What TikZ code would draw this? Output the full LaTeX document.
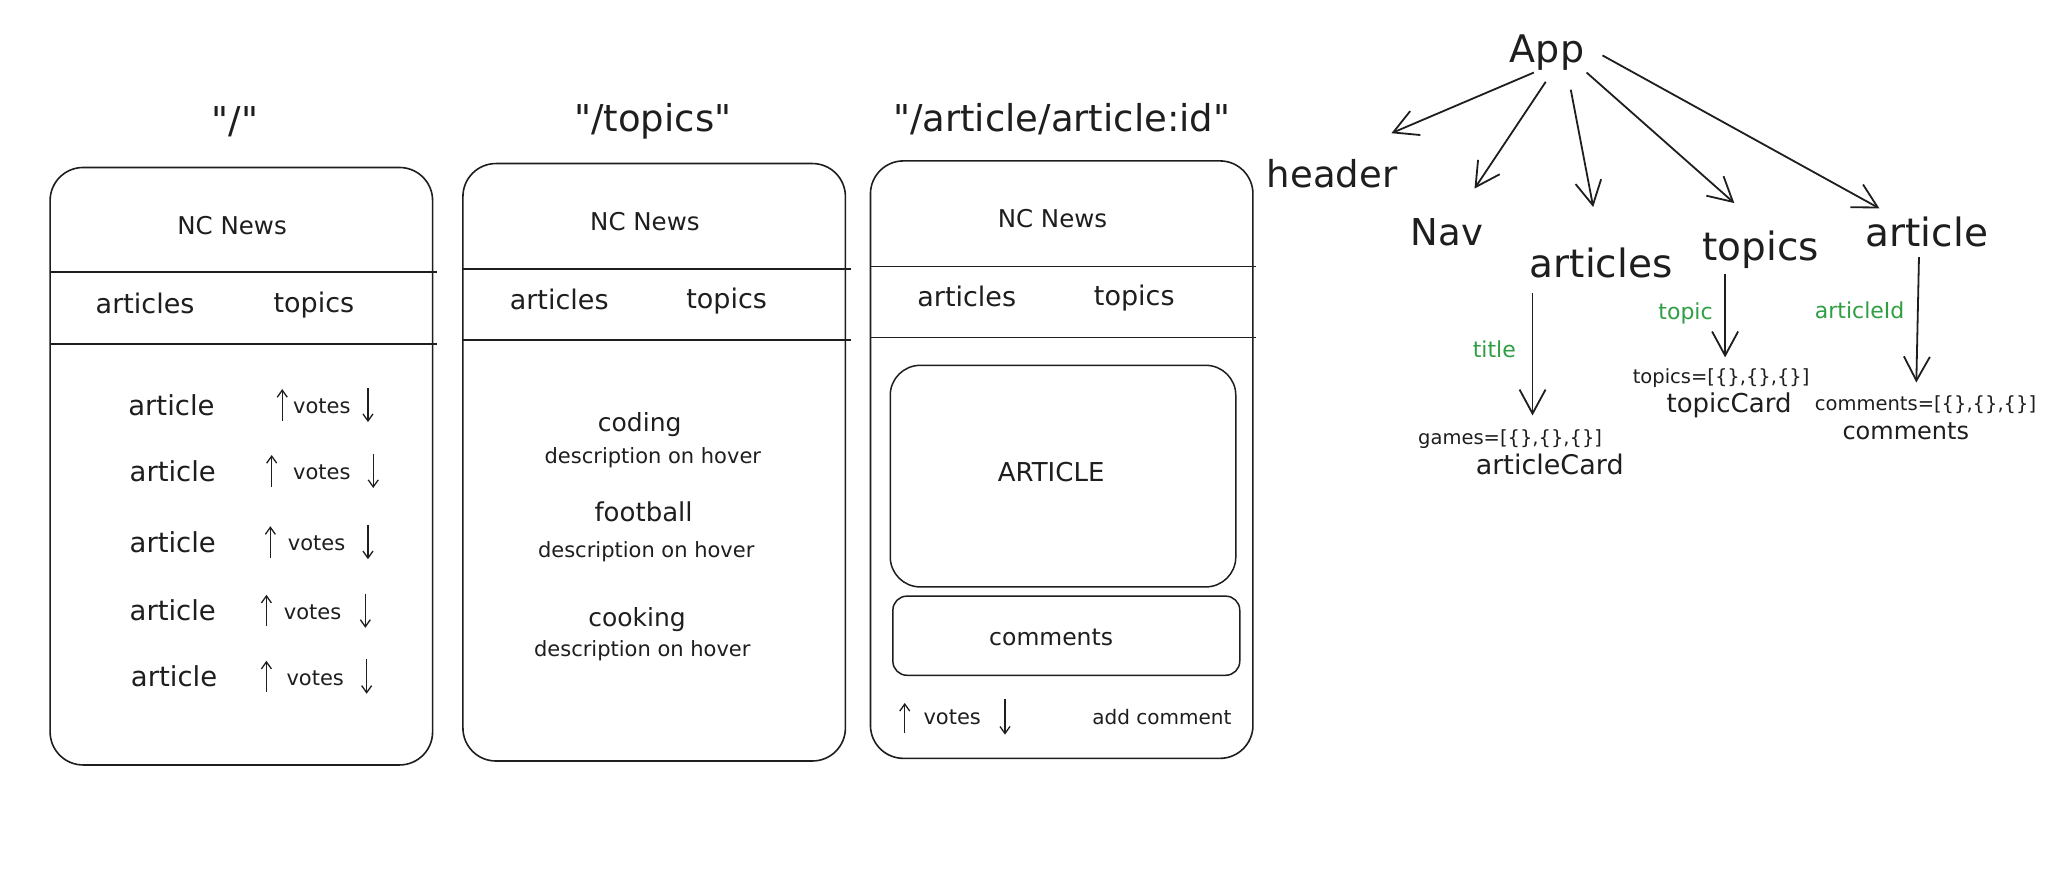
\documentclass[tikz,border=0pt]{standalone}
\usepackage{fontspec}
\setmainfont{DejaVu Sans}[Ligatures=TeXOff]
\usetikzlibrary{arrows.meta}
\definecolor{ink}{HTML}{1E1E1E}
\definecolor{leaf}{HTML}{2F9E44}
\newcommand{\fs}[1]{\fontsize{#1}{#1}\selectfont}
\begin{document}
\begin{tikzpicture}[x=1.3189pt,y=-1.3189pt,
  every node/.style={text=ink,inner sep=0pt},
  frame/.style={draw=ink,line width=1.6pt,rounded corners=33pt},
  card/.style={draw=ink,line width=1.5pt,rounded corners=#1},
  divider/.style={draw=ink,line width=1.7pt},
  ttl/.style={font=\fs{37}},
  brand/.style={font=\fs{24.5}},
  navtxt/.style={font=\fs{27}},
  rowtxt/.style={font=\fs{27.5}},
  small/.style={font=\fs{21}},
  topictxt/.style={font=\fs{25}},
  treetxt/.style={font=\fs{38}},
  listtxt/.style={font=\fs{19.5}},
  cardtxt/.style={font=\fs{26}},
  prop/.style={font=\fs{22},text=leaf},
  tick/.style={draw=ink,line width=1.3pt,-{Straight Barb[length=7pt,width=10pt]}},
  tree/.style={draw=ink,line width=1.8pt,-{Straight Barb[length=24pt,width=26pt]}}
]
\useasboundingbox[fill=white] (0,0) rectangle (1568,660);

% ---------- route "/" ----------
\node[ttl] (t1) at (178,92) {"/"};
\draw[frame] (38,127) rectangle (328,580);
\draw[divider] (38,206) -- (331,206);
\draw[divider] (38,261) -- (331,261);
\node[brand] (b1) at (176,171) {NC News};
\node[navtxt] (na1) at (110,230) {articles};
\node[navtxt] (nt1) at (238,231) {topics};
\foreach \i/\ax/\y/\ux/\vx/\dx in {1/130/307/214/244/279, 2/131/357/206/244/283,
    3/131/411/205/240/279, 4/131/463/202/237/277, 5/132/513/202/239/278}{
  \node[rowtxt] (art\i) at (\ax,\y) {article};
  \node[small] (vt\i) at (\vx,\y+1) {votes};
  \draw[tick] (\ux,\y+12) -- (\ux,\y-12);
  \draw[tick] (\dx,\y-13) -- (\dx,\y+13);
}

% ---------- route "/topics" ----------
\node[ttl] (t2) at (495,92) {"/topics"};
\draw[frame] (351,124) rectangle (641,577);
\draw[divider] (351,204) -- (645,204);
\draw[divider] (351,258) -- (645,258);
\node[brand] (b2) at (489,168) {NC News};
\node[navtxt] (na2) at (424,227) {articles};
\node[navtxt] (nt2) at (551,228) {topics};
\node[topictxt] (tc1) at (485,322) {coding};
\node[small] (td1) at (495,347) {description on hover};
\node[topictxt,font=\fs{26}] (tc2) at (488,388) {football};
\node[small] (td2) at (490,418) {description on hover};
\node[topictxt] (tc3) at (483,470) {cooking};
\node[small] (td3) at (487,493) {description on hover};

% ---------- route "/article/article:id" ----------
\node[ttl] (t3) at (805,90) {"/article/article:id"};
\draw[frame] (660,122) rectangle (950,575);
\draw[divider] (660,202) -- (952,202);
\draw[divider] (660,256) -- (952,256);
\node[brand] (b3) at (798,166) {NC News};
\node[navtxt] (na3) at (733,225) {articles};
\node[navtxt] (nt3) at (860,226) {topics};
\draw[card=30pt] (675,277) rectangle (937,445);
\node[cardtxt] (artbody) at (797,358) {ARTICLE};
\draw[card=14pt] (677,452) rectangle (940,512);
\node[small,font=\fs{23.5}] (cm) at (797,483) {comments};
\draw[tick] (686,556) -- (686,533);
\node[small] (vt6) at (722,544) {votes};
\draw[tick] (762,530) -- (762,557);
\node[small,font=\fs{20}] (addc) at (881,544) {add comment};

% ---------- component tree ----------
\node[treetxt] (App) at (1173,40) {App};
\node[treetxt,font=\fs{37}] (header) at (1010,132) {header};
\node[treetxt,font=\fs{37}] (Nav) at (1097,176) {Nav};
\node[treetxt,font=\fs{39}] (articles) at (1214,199) {articles};
\node[treetxt,font=\fs{39}] (topics) at (1335,189) {topics};
\node[treetxt,font=\fs{39}] (article) at (1461,176) {article};

\draw[tree] ([shift={(-10,15)}]App.center) -- ([shift={(45,-31)}]header.center);
\draw[tree] ([shift={(-1,22)}]App.center) -- ([shift={(21,-33)}]Nav.center);
\draw[tree] ([shift={(18,28)}]App.center) -- ([shift={(-6,-42)}]articles.center);
\draw[tree] ([shift={(30,15)}]App.center) -- ([shift={(-20,-35)}]topics.center);
\draw[tree] ([shift={(42,2)}]App.center) -- ([shift={(-36,-18)}]article.center);

\node[listtxt] (gamesL) at (1145,333) {games=[\{\},\{\},\{\}]};
\node[cardtxt,font=\fs{27}] (articleCard) at (1175,352) {articleCard};
\node[listtxt] (topicsL) at (1305,287) {topics=[\{\},\{\},\{\}]};
\node[cardtxt] (topicCard) at (1311,307) {topicCard};
\node[listtxt] (commentsL) at (1460,307) {comments=[\{\},\{\},\{\}]};
\node[cardtxt,font=\fs{24}] (commentsC) at (1445,327) {comments};

\draw[tree] ([shift={(-52,23)}]articles.center) -- ([shift={(17,-18)}]gamesL.center);
\draw[tree] ([shift={(-27,19)}]topics.center) -- ([shift={(3,-16)}]topicsL.center);
\draw[tree] ([shift={(-6,19)}]article.center) -- ([shift={(-7,-17)}]commentsL.center);

\node[prop] (pTitle) at (1133,265) {title};
\node[prop] (pTopic) at (1278,238) {topic};
\node[prop] (pId) at (1410,235) {articleId};
\end{tikzpicture}
\end{document}
